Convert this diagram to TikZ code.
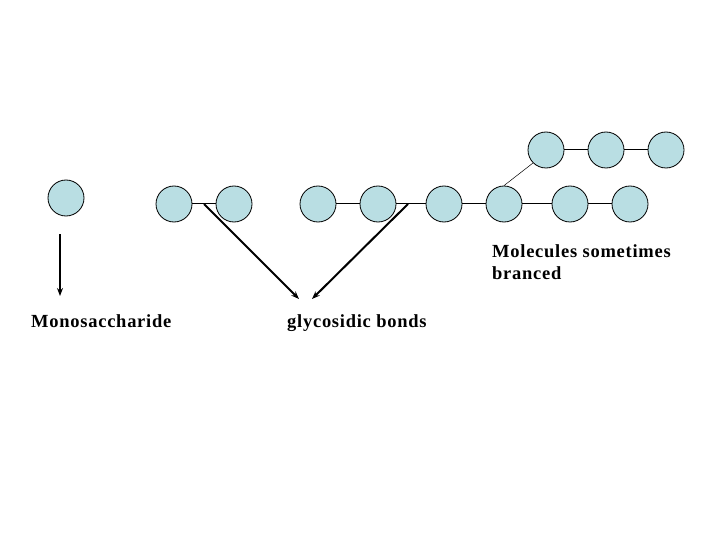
\documentclass[tikz,border=0pt]{standalone}
\usepackage{fontspec}
\setmainfont{Liberation Serif}
\newfontfamily\lblfont[LetterSpace=4]{Liberation Serif}
\usetikzlibrary{arrows.meta}
\definecolor{sugar}{RGB}{185,222,227}
\tikzset{
  sugarunit/.style={circle,draw=black,line width=0.8pt,fill=sugar,minimum size=36pt,inner sep=0pt},
  bond/.style={line width=1pt},
  thinbond/.style={line width=0.5pt},
  pointer/.style={line width=2pt,-{Stealth[length=8pt,width=6pt]}},
  lbl/.style={font=\lblfont\bfseries\fontsize{18.5}{22}\selectfont,anchor=base west,inner sep=0pt,align=left}
}
\begin{document}
\begin{tikzpicture}[x=1pt,y=-1pt]
\useasboundingbox (0,0) rectangle (720,540);
% single monosaccharide
\node[sugarunit] (m1) at (66,198) {};
% disaccharide
\node[sugarunit] (d1) at (174,204) {};
\node[sugarunit] (d2) at (234,204) {};
% chain
\node[sugarunit] (c1) at (318,204) {};
\node[sugarunit] (c2) at (378,204) {};
\node[sugarunit] (c3) at (444,204) {};
\node[sugarunit] (c4) at (504,204) {};
\node[sugarunit] (c5) at (570,204) {};
\node[sugarunit] (c6) at (630,204) {};
% branch
\node[sugarunit] (b1) at (546,150) {};
\node[sugarunit] (b2) at (606,150) {};
\node[sugarunit] (b3) at (666,150) {};
% bonds
\draw[bond] (d1) -- (d2);
\draw[bond] (c1) -- (c2);
\draw[bond] (c2) -- (c3);
\draw[bond] (c3) -- (c4);
\draw[bond] (c4) -- (c5);
\draw[bond] (c5) -- (c6);
\draw[bond] (b1) -- (b2);
\draw[bond] (b2) -- (b3);
\draw[thinbond] (c4.north) -- (b1.225);
% labels
\node[lbl] (mono) at (31,327) {Monosaccharide};
\node[lbl] (glyc) at (287,327) {glycosidic bonds};
\node[lbl] (branch) at (492,279) {Molecules sometimes\\branced};
% arrows
\coordinate (monoTop) at (60,234);
\coordinate (monoTip) at (60,296);
\coordinate (bondA) at (204,204);
\coordinate (bondB) at (408,204);
\coordinate (tipA) at (299,299);
\coordinate (tipB) at (312,299);
\draw[pointer] (monoTop) -- (monoTip);
\draw[pointer] (bondA) -- (tipA);
\draw[pointer] (bondB) -- (tipB);
\end{tikzpicture}
\end{document}
